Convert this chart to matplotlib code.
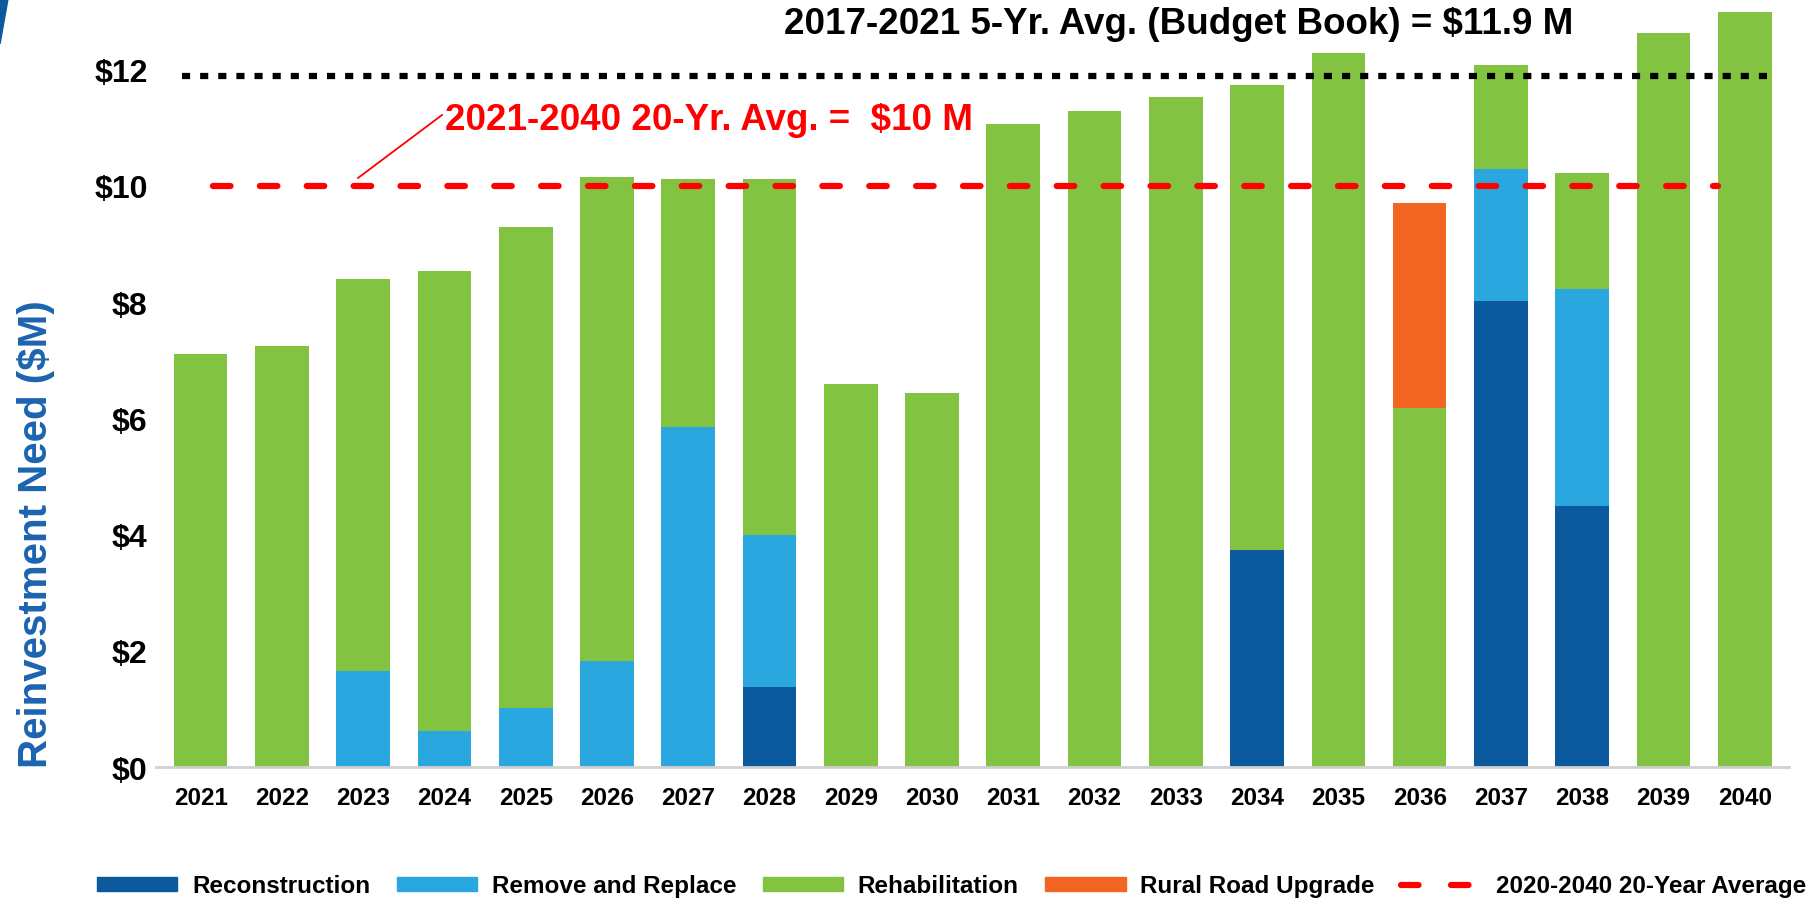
import matplotlib.pyplot as plt
import numpy as np
from matplotlib.patches import Polygon, Patch
from matplotlib.lines import Line2D

plt.switch_backend("Agg")
plt.rcParams["font.family"] = ["Liberation Sans", "DejaVu Sans"]
plt.rcParams["font.weight"] = "bold"

# data ($M), stacked segments per year
years = [str(y) for y in range(2021, 2041)]
reconstruction = [0, 0, 0, 0, 0, 0, 0, 1.38, 0, 0, 0, 0, 0, 3.73, 0, 0, 8.02, 4.50, 0, 0]
remove_replace = [0, 0, 1.65, 0.62, 1.02, 1.82, 5.85, 2.61, 0, 0, 0, 0, 0, 0, 0, 0, 2.27, 3.73, 0, 0]
rehabilitation = [7.10, 7.24, 6.74, 7.91, 8.27, 8.34, 4.27, 6.13, 6.59, 6.43,
                  11.07, 11.29, 11.53, 8.00, 12.28, 6.17, 1.79, 1.99, 12.64, 13.00]
rural_upgrade = [0, 0, 0, 0, 0, 0, 0, 0, 0, 0, 0, 0, 0, 0, 0, 3.53, 0, 0, 0, 0]
avg_20yr = 10.0
avg_budget = 11.9
yticks = [0, 2, 4, 6, 8, 10, 12]

c_recon = "#0B5A9E"
c_rr = "#2BA7E0"
c_rehab = "#82C341"
c_rural = "#F26522"
c_red = "#FF0000"

fig = plt.figure(figsize=(18.13, 9.03), dpi=100)
ax = fig.add_axes([0.086, 0.1495, 0.901, 0.843])

x = np.arange(len(years))
w = 0.66
b = np.zeros(len(years))
for vals, col in [(reconstruction, c_recon), (remove_replace, c_rr),
                  (rehabilitation, c_rehab), (rural_upgrade, c_rural)]:
    v = np.array(vals)
    ax.bar(x, v, w, bottom=b, color=col, linewidth=0)
    b = b + v

# average lines
ax.plot([-0.23, 19.27], [avg_budget, avg_budget], color="black", lw=4.5,
        linestyle=(0, (1.3, 1.6)), dash_capstyle="butt", zorder=3)
ax.plot([0.15, 18.67], [avg_20yr, avg_20yr], color=c_red, lw=4.5,
        linestyle=(0, (2.8, 4.7)), dash_capstyle="round", zorder=3)

ax.set_xlim(-0.55, 19.55)
ax.set_ylim(0, 13.1)
ax.set_xticks(x)
ax.set_xticklabels(years, fontsize=17.5, fontweight="bold")
ax.set_yticks(yticks)
ax.set_yticklabels(["$%d" % t for t in yticks], fontsize=23, fontweight="bold")
ax.tick_params(length=0)
ax.tick_params(axis="y", pad=6)
ax.tick_params(axis="x", pad=14)
for s in ["top", "right", "left"]:
    ax.spines[s].set_visible(False)
ax.spines["bottom"].set_color("#D0D0D0")
ax.spines["bottom"].set_linewidth(2)

fig.text(0.02, 1 - 534 / 903, "Reinvestment Need ($M)", rotation=90, ha="center", va="center",
         fontsize=29, fontweight="bold", color="#1C64B0")

fig.text(1179 / 1813, 1 - 25 / 903, "2017-2021 5-Yr. Avg. (Budget Book) = $11.9 M",
         ha="center", va="center", fontsize=26.5, fontweight="bold", color="black")

fig.text(445 / 1813, 1 - 121 / 903, "2021-2040 20-Yr. Avg. =  $10 M",
         ha="left", va="center", fontsize=26.5, fontweight="bold", color=c_red)
fig.add_artist(Line2D([442 / 1813, 358 / 1813], [1 - 116 / 903, 1 - 179 / 903],
                      color=c_red, lw=1.3, transform=fig.transFigure))

# blue corner sliver
fig.add_artist(Polygon([[0, 1], [8 / 1813, 1], [0, 1 - 45 / 903]], closed=True,
                       color="#0B5A9E", transform=fig.transFigure))

handles = [Patch(color=c_recon), Patch(color=c_rr), Patch(color=c_rehab), Patch(color=c_rural),
           Line2D([0], [0], color=c_red, lw=4.5, linestyle=(0, (2.8, 5.2)), dash_capstyle="round")]
labels = ["Reconstruction", "Remove and Replace", "Rehabilitation", "Rural Road Upgrade",
          "2020-2040 20-Year Average"]
fig.legend(handles, labels, loc="center", bbox_to_anchor=(0.525, 1 - 887 / 903), ncol=5,
           frameon=False, handlelength=3.3, handleheight=0.55,
           handletextpad=0.6, columnspacing=1.1, prop={"weight": "bold", "size": 17.5})

fig.savefig("out.png", dpi=100, facecolor="white")
